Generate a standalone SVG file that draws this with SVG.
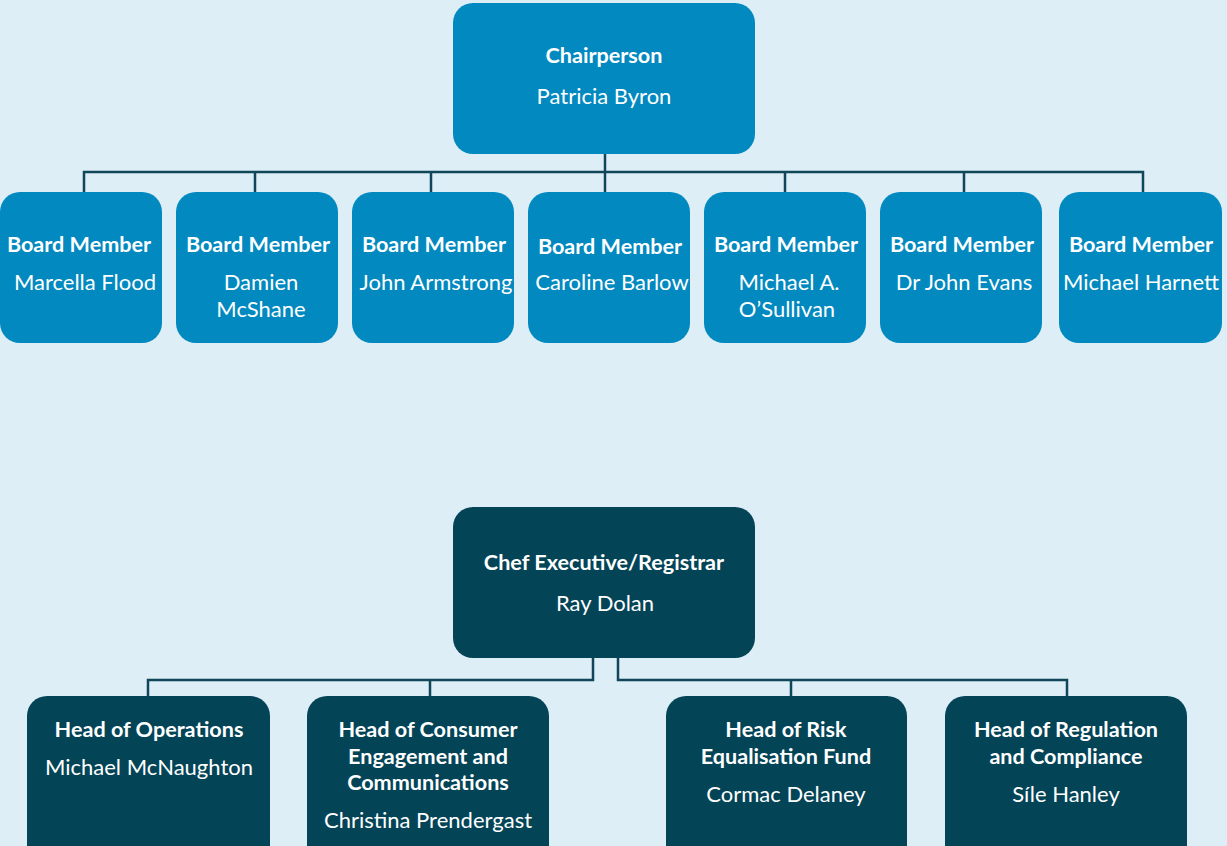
<svg xmlns="http://www.w3.org/2000/svg" width="1227" height="846" viewBox="0 0 1227 846">
  <style>
    .board rect { fill: #0189c0; }
    .exec rect { fill: #034457; }
    text { font-family: Lato, "Open Sans", "Liberation Sans", sans-serif; fill: #ffffff; text-anchor: middle; }
    .t { font-weight: 700; font-size: 21.6px; }
    .n { font-weight: 400; font-size: 22px; }
    .conn { fill: none; stroke: #0f4658; stroke-width: 2.5; }
  </style>
  <rect x="0" y="0" width="1227" height="846" fill="#ddeef7"/>

  <g id="connectors">
    <!-- board tree -->
    <path class="conn" d="M605 154 V192"/>
    <path class="conn" d="M84 192 V172 H1143 V192"/>
    <path class="conn" d="M255 172 V192 M431 172 V192 M785 172 V192 M964 172 V192"/>
    <!-- executive tree -->
    <path class="conn" d="M593 658 V680 H148 V697 M430 680 V697"/>
    <path class="conn" d="M618 658 V680 H1067 V697 M791 680 V697"/>
  </g>

  <g id="chairperson" class="board">
    <rect x="453" y="3" width="302" height="151" rx="20"/>
    <text class="t" x="604" y="63">Chairperson</text>
    <text class="n" x="604" y="104">Patricia Byron</text>
  </g>

  <g id="board-1" class="board">
    <rect x="0" y="192" width="162" height="151" rx="20"/>
    <text class="t" x="79" y="252">Board Member</text>
    <text class="n" x="85" y="290">Marcella Flood</text>
  </g>
  <g id="board-2" class="board">
    <rect x="176" y="192" width="162" height="151" rx="20"/>
    <text class="t" x="258" y="252">Board Member</text>
    <text class="n" x="261" y="290">Damien</text>
    <text class="n" x="261" y="317">McShane</text>
  </g>
  <g id="board-3" class="board">
    <rect x="352" y="192" width="162" height="151" rx="20"/>
    <text class="t" x="434" y="252">Board Member</text>
    <text class="n" x="436" y="290">John Armstrong</text>
  </g>
  <g id="board-4" class="board">
    <rect x="528" y="192" width="162" height="151" rx="20"/>
    <text class="t" x="610" y="254">Board Member</text>
    <text class="n" x="612" y="290">Caroline Barlow</text>
  </g>
  <g id="board-5" class="board">
    <rect x="704" y="192" width="162" height="151" rx="20"/>
    <text class="t" x="786" y="252">Board Member</text>
    <text class="n" x="789" y="290">Michael A.</text>
    <text class="n" x="787" y="317">O’Sullivan</text>
  </g>
  <g id="board-6" class="board">
    <rect x="880" y="192" width="162" height="151" rx="20"/>
    <text class="t" x="962" y="252">Board Member</text>
    <text class="n" x="964" y="290">Dr John Evans</text>
  </g>
  <g id="board-7" class="board">
    <rect x="1059" y="192" width="163" height="151" rx="20"/>
    <text class="t" x="1141" y="252">Board Member</text>
    <text class="n" x="1141" y="290">Michael Harnett</text>
  </g>

  <g id="chief-executive" class="exec">
    <rect x="453" y="507" width="302" height="151" rx="20"/>
    <text class="t" x="604" y="570">Chef Executive/Registrar</text>
    <text class="n" x="605" y="611">Ray Dolan</text>
  </g>

  <g id="head-operations" class="exec">
    <rect x="27" y="696" width="243" height="170" rx="20"/>
    <text class="t" x="149" y="737">Head of Operations</text>
    <text class="n" x="149" y="775">Michael McNaughton</text>
  </g>
  <g id="head-consumer" class="exec">
    <rect x="307" y="696" width="242" height="170" rx="20"/>
    <text class="t" x="428" y="737">Head of Consumer</text>
    <text class="t" x="428" y="764">Engagement and</text>
    <text class="t" x="428" y="790">Communications</text>
    <text class="n" x="428" y="828">Christina Prendergast</text>
  </g>
  <g id="head-risk" class="exec">
    <rect x="666" y="696" width="241" height="170" rx="20"/>
    <text class="t" x="786" y="737">Head of Risk</text>
    <text class="t" x="786" y="764">Equalisation Fund</text>
    <text class="n" x="786" y="802">Cormac Delaney</text>
  </g>
  <g id="head-regulation" class="exec">
    <rect x="945" y="696" width="242" height="170" rx="20"/>
    <text class="t" x="1066" y="737">Head of Regulation</text>
    <text class="t" x="1066" y="764">and Compliance</text>
    <text class="n" x="1066" y="802">Síle Hanley</text>
  </g>
</svg>
